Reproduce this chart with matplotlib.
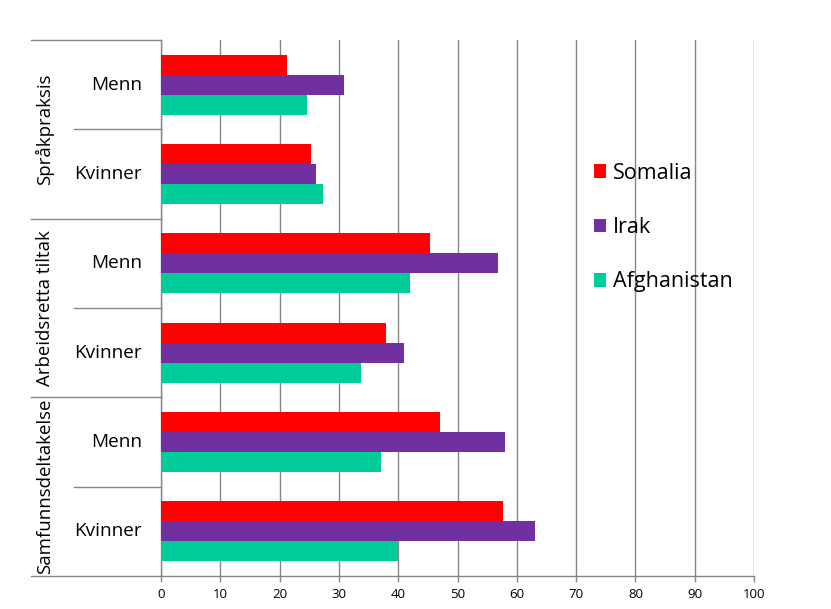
import matplotlib
matplotlib.use("Agg")
import matplotlib.pyplot as plt
from matplotlib.lines import Line2D
import numpy as np

groups = ["Språkpraksis", "Arbeidsretta tiltak", "Samfunnsdeltakelse"]
subgroups = ["Menn", "Kvinner"]
series_names = ["Somalia", "Irak", "Afghanistan"]
colors = ["#FF0000", "#7030A0", "#00CC99"]

# order: Språk Menn, Språk Kvinner, Arbeid Menn, Arbeid Kvinner, Samf Menn, Samf Kvinner
somalia = [21.2, 25.3, 45.4, 37.9, 47.0, 57.7]
irak = [30.9, 26.1, 56.8, 41.0, 58.0, 63.1]
afghanistan = [24.6, 27.3, 42.0, 33.7, 37.1, 40.0]
xticks = [0, 10, 20, 30, 40, 50, 60, 70, 80, 90, 100]

plt.rcParams['font.family'] = ['Open Sans', 'DejaVu Sans']

W, H = 831, 609
fig = plt.figure(figsize=(W / 100, H / 100), dpi=100)
x0, x1, ytop, ybot = 161, 754, 40, 576
ax = fig.add_axes([x0 / W, 1 - ybot / H, (x1 - x0) / W, (ybot - ytop) / H])

n = len(somalia)
centers = np.arange(n) + 0.5
bh = 20 / 89.3
data = [somalia, irak, afghanistan]
offsets = [-bh, 0, bh]
for vals, c, off, name in zip(data, colors, offsets, series_names):
    ax.barh(centers + off, vals, height=bh, color=c, label=name, zorder=3, linewidth=0)

ax.set_xlim(0, 100)
ax.set_ylim(n, 0)
ax.set_xticks(xticks)
ax.set_xticklabels([str(t) for t in xticks], fontsize=9.5)
ax.set_yticks([])
ax.tick_params(axis='x', direction='out', length=4, width=1, color='#868686', pad=5)
ax.grid(axis='x', color='#868686', linewidth=1, zorder=0)
for s in ['top', 'right']:
    ax.spines[s].set_visible(False)
for s in ['left', 'bottom']:
    ax.spines[s].set_color('#868686')
    ax.spines[s].set_linewidth(1)

# sub labels
for i, c in enumerate(centers):
    ax.text(-19 / 593 * 100, c, subgroups[i % 2], ha='right', va='center', fontsize=13.7)

# separators (figure coordinates)
def hline(xa, xb, yp):
    fig.add_artist(Line2D([xa / W, xb / W], [1 - yp / H, 1 - yp / H],
                          color='#868686', linewidth=1, transform=fig.transFigure))

rowh = (ybot - ytop) / n
for g in range(len(groups) + 1):
    hline(31, x0, ytop + g * 2 * rowh)
for g in range(len(groups)):
    hline(74, x0, ytop + (2 * g + 1) * rowh)
    yc = ytop + (2 * g + 1) * rowh
    fig.text(45 / W, 1 - yc / H, groups[g], rotation=90, ha='center', va='center', fontsize=13.4)

leg = ax.legend(loc='upper left', bbox_to_anchor=(583 / W, 1 - 152 / H), bbox_transform=fig.transFigure,
                frameon=False, fontsize=15.5, handlelength=0.58, handleheight=0.58,
                labelspacing=1.55, handletextpad=0.3, borderpad=0)

fig.savefig("out.png", dpi=100, facecolor='white')
